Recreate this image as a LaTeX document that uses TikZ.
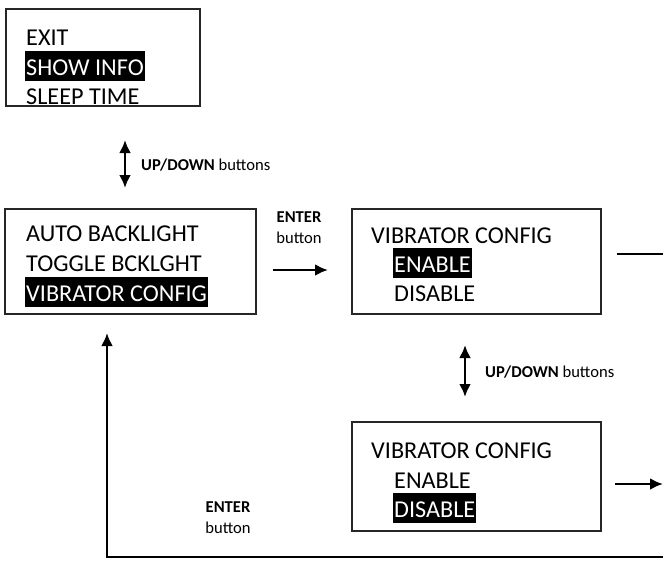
\documentclass[tikz,border=0pt]{standalone}
\usepackage{fontspec}
\setmainfont{Carlito}
\usetikzlibrary{arrows.meta,positioning}

\begin{document}
\begin{tikzpicture}[
    x=1pt, y=-1pt,
    menu/.style={rectangle,
        draw=black!85,
        line width=2pt,
        anchor=north west,
        inner sep=0pt},
    item/.style={anchor=base west,
        inner xsep=1pt, inner ysep=0pt,
        text height=24pt, text depth=6pt,
        font=\fontsize{24.2}{29}\selectfont},
    chosen/.style={item, fill=black, text=white},
    note/.style={font=\fontsize{16.6}{21}\selectfont, align=center, inner sep=0pt},
    conn/.style={line width=2.6pt, -{Latex[length=13pt,width=12pt]}},
    updown/.style={line width=2.6pt, {Latex[length=13pt,width=12pt]}-{Latex[length=13pt,width=12pt]}},
    ]
    \useasboundingbox (0,0) rectangle (663,562);

    % menu screens
    \node [menu, minimum width=194pt, minimum height=97pt] (infomenu) at (5,8) {};
    \node [menu, minimum width=251pt, minimum height=105pt] (setmenu) at (4,208) {};
    \node [menu, minimum width=249pt, minimum height=105pt] (vibon) at (351,208) {};
    \node [menu, minimum width=249pt, minimum height=109pt] (viboff) at (351,421) {};

    \node [item] (exititem) at (25,45) {EXIT};
    \node [chosen] (infoitem) at (25,75) {SHOW INFO};
    \node [item] (sleepitem) at (25,104) {SLEEP TIME};

    \node [item] (autoitem) at (25,241) {AUTO BACKLIGHT};
    \node [item] (toggleitem) at (25,271) {TOGGLE BCKLGHT};
    \node [chosen] (vibitem) at (25,301) {VIBRATOR CONFIG};

    \node [item] (vibontitle) at (370,243) {VIBRATOR CONFIG};
    \node [chosen] (enableon) at (393,272) {ENABLE};
    \node [item] (disableon) at (393,301) {DISABLE};

    \node [item] (vibofftitle) at (370,458) {VIBRATOR CONFIG};
    \node [item] (enableoff) at (393,488) {ENABLE};
    \node [chosen] (disableoff) at (393,517) {DISABLE};

    % connector ends
    \coordinate (udtop) at (125,140);
    \coordinate (udbot) at (125,188);
    \coordinate (udtop2) at (465,345);
    \coordinate (udbot2) at (465,397);
    \coordinate (enterfrom) at (273,270);
    \coordinate (enterto) at (328,270);
    \coordinate (onout) at (617,254);
    \coordinate (onedge) at (663,254);
    \coordinate (offout) at (615,484);
    \coordinate (offedge) at (663,484);
    \coordinate (backin) at (663,557);
    \coordinate (backto) at (107,333);

    \draw[updown] (udtop) -- (udbot);
    \node [note, anchor=west] (udlabel) at (141,165) {\textbf{UP/DOWN} buttons};
    \draw[updown] (udtop2) -- (udbot2);
    \node [note, anchor=west] (udlabel2) at (485,372) {\textbf{UP/DOWN} buttons};

    \draw[conn] (enterfrom) -- (enterto);
    \node [note] (enterlabel) at (299,228) {\textbf{ENTER}\\button};

    \draw[line width=2pt] (onout) -- (onedge);
    \draw[conn] (offout) -- (offedge);

    \draw[conn] (backin) -| (backto);
    \node [note] (enterlabel2) at (228,518) {\textbf{ENTER}\\button};
\end{tikzpicture}
\end{document}
